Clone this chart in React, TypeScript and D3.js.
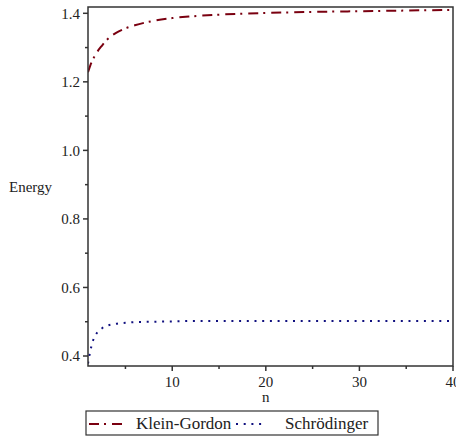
import React from "react";
import * as d3 from "d3";

const nValues = [1, 1.25, 1.5, 2, 2.5, 3, 4, 5, 6, 8, 10, 12, 15, 20, 25, 30, 35, 40];
const kleinGordon = [1.228, 1.248, 1.264, 1.288, 1.306, 1.322, 1.343, 1.356, 1.365, 1.378, 1.386, 1.391, 1.396, 1.401, 1.404, 1.406, 1.408, 1.41];
const schrodinger = [0.378, 0.415, 0.442, 0.469, 0.481, 0.488, 0.494, 0.497, 0.499, 0.5, 0.501, 0.502, 0.502, 0.502, 0.502, 0.502, 0.502, 0.502];
const xMajorTicks = [10, 20, 30, 40];
const xMinorTicks = [5, 15, 25, 35];
const yMajorTicks = [0.4, 0.6, 0.8, 1.0, 1.2, 1.4];
const yMinorTicks = [0.5, 0.7, 0.9, 1.1, 1.3];
const seriesNames = ["Klein-Gordon", "Schrödinger"];

const W = 456, H = 439;
const L = 88, R = 453, T = 7, B = 366;
const font = '"Liberation Serif", "Times New Roman", "Tinos"';

export default function App() {
  const x = d3.scaleLinear().domain([1, 40]).range([L, R]);
  const y = d3.scaleLinear().domain([0.4, 1.4]).range([356, 13.3]);
  const line = (vals: number[]) =>
    d3.line<number>().x((_, i) => x(nValues[i])).y((v) => y(v)).curve(d3.curveMonotoneX)(vals) || "";
  const kgColor = "#7a0010";
  const scColor = "#10107f";
  const axisColor = "#333";
  const tstyle = { fontFamily: font };
  return (
    <svg width={W} height={H} style={{ position: "absolute", left: 0, top: 0, background: "#fff" }}>
      <defs>
        <clipPath id="plot"><rect x={L} y={T} width={R - L} height={B - T} /></clipPath>
      </defs>
      <g clipPath="url(#plot)">
        <path d={line(kleinGordon)} fill="none" stroke={kgColor} strokeWidth={2} strokeDasharray="10 5 2 6" />
        <path d={line(schrodinger)} fill="none" stroke={scColor} strokeWidth={2} strokeDasharray="2 5.7" />
      </g>
      <rect x={L} y={T} width={R - L} height={B - T} fill="none" stroke={axisColor} strokeWidth={1.5} />
      {yMajorTicks.map((t) => (
        <g key={"ym" + t}>
          <line x1={L - 5} x2={L} y1={y(t)} y2={y(t)} stroke={axisColor} strokeWidth={1.5} />
          <text x={L - 8} y={y(t)} dy="0.35em" textAnchor="end" style={tstyle} fontSize={15} fill="#222">{t.toFixed(1)}</text>
        </g>
      ))}
      {yMinorTicks.map((t) => (
        <line key={"yn" + t} x1={L - 3} x2={L} y1={y(t)} y2={y(t)} stroke={axisColor} strokeWidth={1.5} />
      ))}
      {xMajorTicks.map((t) => (
        <g key={"xm" + t}>
          <line x1={x(t)} x2={x(t)} y1={B} y2={B + 5} stroke={axisColor} strokeWidth={1.5} />
          <text x={x(t)} y={387} textAnchor="middle" style={tstyle} fontSize={15} fill="#222">{t}</text>
        </g>
      ))}
      {xMinorTicks.map((t) => (
        <line key={"xn" + t} x1={x(t)} x2={x(t)} y1={B} y2={B + 3} stroke={axisColor} strokeWidth={1.5} />
      ))}
      <text x={9} y={192} style={tstyle} fontSize={15} fill="#222">Energy</text>
      <text x={x(20)} y={402} textAnchor="middle" style={tstyle} fontSize={15} fill="#222">n</text>
      <rect x={86} y={411} width={292} height={24} fill="#fff" stroke={axisColor} strokeWidth={1.2} />
      <line x1={89} x2={127} y1={424} y2={424} stroke={kgColor} strokeWidth={2} strokeDasharray="10 5 2 6" />
      <text x={136} y={429} style={tstyle} fontSize={17} fill="#222">{seriesNames[0]}</text>
      <line x1={236} x2={266} y1={424} y2={424} stroke={scColor} strokeWidth={2} strokeDasharray="2 5.7" />
      <text x={285} y={429} style={tstyle} fontSize={17} fill="#222">{seriesNames[1]}</text>
    </svg>
  );
}
